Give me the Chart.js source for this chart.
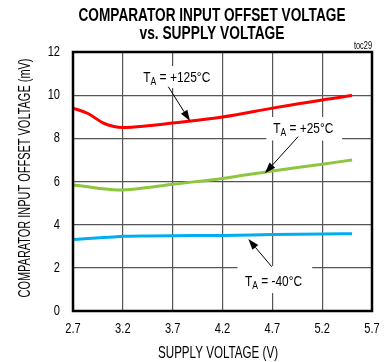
<!DOCTYPE html>
<html>
<head>
<meta charset="utf-8">
<script src="https://cdn.jsdelivr.net/npm/chart.js@4.4.1/dist/chart.umd.min.js"></script>
<style>
  html, body { margin: 0; padding: 0; background: #fff; }
  #wrap { width: 388px; height: 362px; }
</style>
</head>
<body>
<div id="wrap"><canvas id="chart" width="388" height="362"></canvas></div>
<script>
// datos
const voltage = [2.7, 2.85, 3.0, 3.1, 3.2, 3.45, 3.7, 4.2, 4.7, 5.2, 5.5];
const offset125 = [9.40, 9.15, 8.72, 8.56, 8.50, 8.58, 8.71, 8.99, 9.40, 9.78, 9.98];
const offset25 = [5.84, 5.76, 5.66, 5.62, 5.61, 5.72, 5.87, 6.14, 6.49, 6.80, 7.00];
const offsetM40 = [3.31, 3.36, 3.40, 3.43, 3.46, 3.48, 3.49, 3.50, 3.54, 3.57, 3.58];
const xTicks = [2.7, 3.2, 3.7, 4.2, 4.7, 5.2, 5.7];
const yTicks = [0, 2, 4, 6, 8, 10, 12];

const titleLines = ['COMPARATOR INPUT OFFSET VOLTAGE', 'vs. SUPPLY VOLTAGE'];
const yTitle = 'COMPARATOR INPUT OFFSET VOLTAGE (mV)';
const xTitle = 'SUPPLY VOLTAGE (V)';

// etiquetas: caja, texto y flecha en unidades de datos
const labels = [
  { temp: '+125°C', w: 67, box: [3.35, 4.11, 11.35, 10.33], text: [3.405, 10.61], from: [3.656, 10.39], to: [3.874, 8.80] },
  { temp: '+25°C', w: 60, box: [4.64, 5.40, 8.99, 7.90], text: [4.71, 8.26], from: [4.96, 8.08], to: [4.626, 6.38] },
  { temp: '-40°C', w: 57, box: [4.35, 5.10, 2.09, 0.83], text: [4.426, 1.17], from: [4.694, 2.05], to: [4.459, 3.34] }
];

const SANS = "'Liberation Sans', Arial, sans-serif";
const NARROW = 0.74;

function pts(ys) {
  return voltage.map((v, i) => ({ x: v, y: ys[i] }));
}

// texto comprimido (simula una fuente estrecha)
function fitText(ctx, text, cx, y, width) {
  const w = ctx.measureText(text).width;
  ctx.save();
  ctx.translate(cx, y);
  ctx.scale(width / w, 1);
  ctx.textAlign = 'center';
  ctx.fillText(text, 0, 0);
  ctx.restore();
}

function narrowText(ctx, text, x, y, align) {
  ctx.save();
  ctx.translate(x, y);
  ctx.scale(NARROW, 1);
  ctx.textAlign = align;
  ctx.fillText(text, 0, 0);
  ctx.restore();
}

const extras = {
  id: 'extras',
  afterDraw(chart) {
    const ctx = chart.ctx;
    const xs = chart.scales.x, ys = chart.scales.y;
    const a = chart.chartArea;
    ctx.save();

    // marco
    ctx.strokeStyle = '#000';
    ctx.lineWidth = 2.5;
    ctx.strokeRect(a.left, a.top, a.right - a.left, a.bottom - a.top);

    // titulo
    ctx.fillStyle = '#000';
    ctx.textBaseline = 'alphabetic';
    ctx.font = 'bold 18px ' + SANS;
    fitText(ctx, titleLines[0], 212, 21, 267);
    fitText(ctx, titleLines[1], 212, 39, 145);

    ctx.font = '10px ' + SANS;
    narrowText(ctx, 'toc29', a.right, 49, 'right');

    // marcas de los ejes
    ctx.font = '15px ' + SANS;
    ctx.textBaseline = 'middle';
    xTicks.forEach(v => narrowText(ctx, v.toFixed(1), xs.getPixelForValue(v), a.bottom + 18, 'center'));
    yTicks.forEach(v => narrowText(ctx, String(v), a.left - 13, ys.getPixelForValue(v), 'right'));

    // titulos de ejes
    ctx.textBaseline = 'alphabetic';
    ctx.font = '16px ' + SANS;
    fitText(ctx, xTitle, 218, 358, 120);
    ctx.save();
    ctx.translate(30, 178);
    ctx.rotate(-Math.PI / 2);
    fitText(ctx, yTitle, 0, 0, 239);
    ctx.restore();

    // etiquetas con flechas
    labels.forEach(l => {
      const x0 = xs.getPixelForValue(l.box[0]), x1 = xs.getPixelForValue(l.box[1]);
      const y0 = ys.getPixelForValue(l.box[2]), y1 = ys.getPixelForValue(l.box[3]);
      ctx.fillStyle = '#fff';
      ctx.fillRect(x0, y0, x1 - x0, y1 - y0);

      const fx = xs.getPixelForValue(l.from[0]), fy = ys.getPixelForValue(l.from[1]);
      const tx = xs.getPixelForValue(l.to[0]), ty = ys.getPixelForValue(l.to[1]);
      const ang = Math.atan2(ty - fy, tx - fx);
      const hl = 11, hw = 3.8;
      ctx.strokeStyle = '#000';
      ctx.lineWidth = 1;
      ctx.beginPath();
      ctx.moveTo(fx, fy);
      ctx.lineTo(tx - Math.cos(ang) * hl, ty - Math.sin(ang) * hl);
      ctx.stroke();
      ctx.fillStyle = '#000';
      ctx.beginPath();
      ctx.moveTo(tx, ty);
      ctx.lineTo(tx - Math.cos(ang) * hl - Math.sin(ang) * hw, ty - Math.sin(ang) * hl + Math.cos(ang) * hw);
      ctx.lineTo(tx - Math.cos(ang) * hl + Math.sin(ang) * hw, ty - Math.sin(ang) * hl - Math.cos(ang) * hw);
      ctx.closePath();
      ctx.fill();

      // T con subindice A, comprimido al ancho medido
      const rest = ' = ' + l.temp;
      ctx.font = '14px ' + SANS;
      const wT = ctx.measureText('T').width, wR = ctx.measureText(rest).width;
      ctx.font = '10px ' + SANS;
      const wA = ctx.measureText('A').width;
      const s = l.w / (wT + wA + wR);
      ctx.save();
      ctx.translate(xs.getPixelForValue(l.text[0]), ys.getPixelForValue(l.text[1]));
      ctx.scale(s, 1);
      ctx.textAlign = 'left';
      ctx.textBaseline = 'alphabetic';
      ctx.font = '14px ' + SANS;
      ctx.fillText('T', 0, 0);
      ctx.fillText(rest, wT + wA, 0);
      ctx.font = '10px ' + SANS;
      ctx.fillText('A', wT, 3);
      ctx.restore();
    });
    ctx.restore();
  }
};

const lineStyle = { fill: false, pointRadius: 0, borderWidth: 3, cubicInterpolationMode: 'monotone' };

new Chart(document.getElementById('chart'), {
  type: 'line',
  data: {
    datasets: [
      Object.assign({ label: 'TA = +125°C', data: pts(offset125), borderColor: '#ff0000' }, lineStyle),
      Object.assign({ label: 'TA = +25°C', data: pts(offset25), borderColor: '#8dc63f' }, lineStyle),
      Object.assign({ label: 'TA = -40°C', data: pts(offsetM40), borderColor: '#00aeef' }, lineStyle)
    ]
  },
  options: {
    responsive: false,
    animation: false,
    layout: { padding: { top: 52, right: 16, left: 0, bottom: 0 } },
    plugins: { legend: { display: false }, tooltip: { enabled: false } },
    scales: {
      x: {
        type: 'linear',
        min: xTicks[0],
        max: xTicks[xTicks.length - 1],
        afterBuildTicks: s => { s.ticks = xTicks.map(v => ({ value: v })); },
        afterFit: s => { s.height = 51; },
        grid: { color: '#555', lineWidth: 1.2, drawTicks: false },
        border: { display: false },
        ticks: { display: false }
      },
      y: {
        min: yTicks[0],
        max: yTicks[yTicks.length - 1],
        afterBuildTicks: s => { s.ticks = yTicks.map(v => ({ value: v })); },
        afterFit: s => { s.width = 73; },
        grid: { color: '#555', lineWidth: 1.2, drawTicks: false },
        border: { display: false },
        ticks: { display: false }
      }
    }
  },
  plugins: [extras]
});
</script>
</body>
</html>
